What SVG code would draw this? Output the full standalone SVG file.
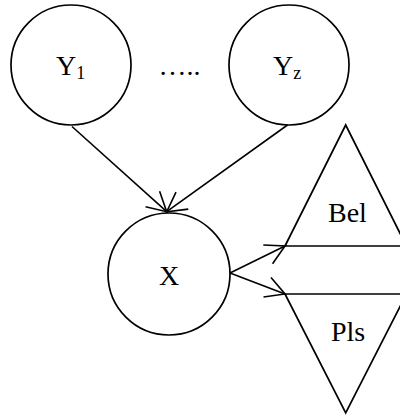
<svg xmlns="http://www.w3.org/2000/svg" width="400" height="418" viewBox="0 0 400 418">
<style>
.shape{fill:#fff;stroke:#000;stroke-width:1.7}
.edge{fill:none;stroke:#000;stroke-width:1.6;marker-end:url(#arr)}
.lbl{font-family:"Liberation Serif","Times New Roman",serif;font-size:28px;fill:#000}
.sub{font-size:18px}
</style>
<defs>
<marker id="arr" markerUnits="userSpaceOnUse" viewBox="-24 -14 28 28" markerWidth="28" markerHeight="28" refX="0" refY="0" orient="auto" overflow="visible">
<path d="M-19,-10.5 L0,0 L-19,10.5" fill="none" stroke="#000" stroke-width="1.6"/>
</marker>
</defs>
<rect width="400" height="418" fill="#fff"/>
<g id="Y1">
<circle class="shape" cx="71" cy="65" r="60"/>
<text class="lbl" x="56" y="75">Y<tspan class="sub" dy="3.5">1</tspan></text>
</g>
<g id="Yz">
<circle class="shape" cx="289" cy="65" r="60"/>
<text class="lbl" x="273" y="75">Y<tspan class="sub" dy="3.5">z</tspan></text>
</g>
<g id="dots">
<text class="lbl" x="158.5" y="75">…..</text>
</g>
<g id="X">
<circle class="shape" cx="169" cy="274" r="61"/>
<text class="lbl" x="169" y="284.5" text-anchor="middle">X</text>
</g>
<g id="Bel">
<polygon class="shape" points="345.7,125 285,246 406.4,246"/>
<text class="lbl" x="328" y="221.5">Bel</text>
</g>
<g id="Pls">
<polygon class="shape" points="285,294 406.4,294 345.7,413"/>
<text class="lbl" x="331" y="341">Pls</text>
</g>
<g id="connectors">
<line class="edge" x1="72" y1="126.5" x2="166.7" y2="211.7"/>
<line class="edge" x1="287.5" y1="125" x2="166.7" y2="211.7"/>
<line class="edge" x1="230" y1="273" x2="285" y2="246"/>
<line class="edge" x1="230" y1="273" x2="285" y2="294"/>
</g>
</svg>
